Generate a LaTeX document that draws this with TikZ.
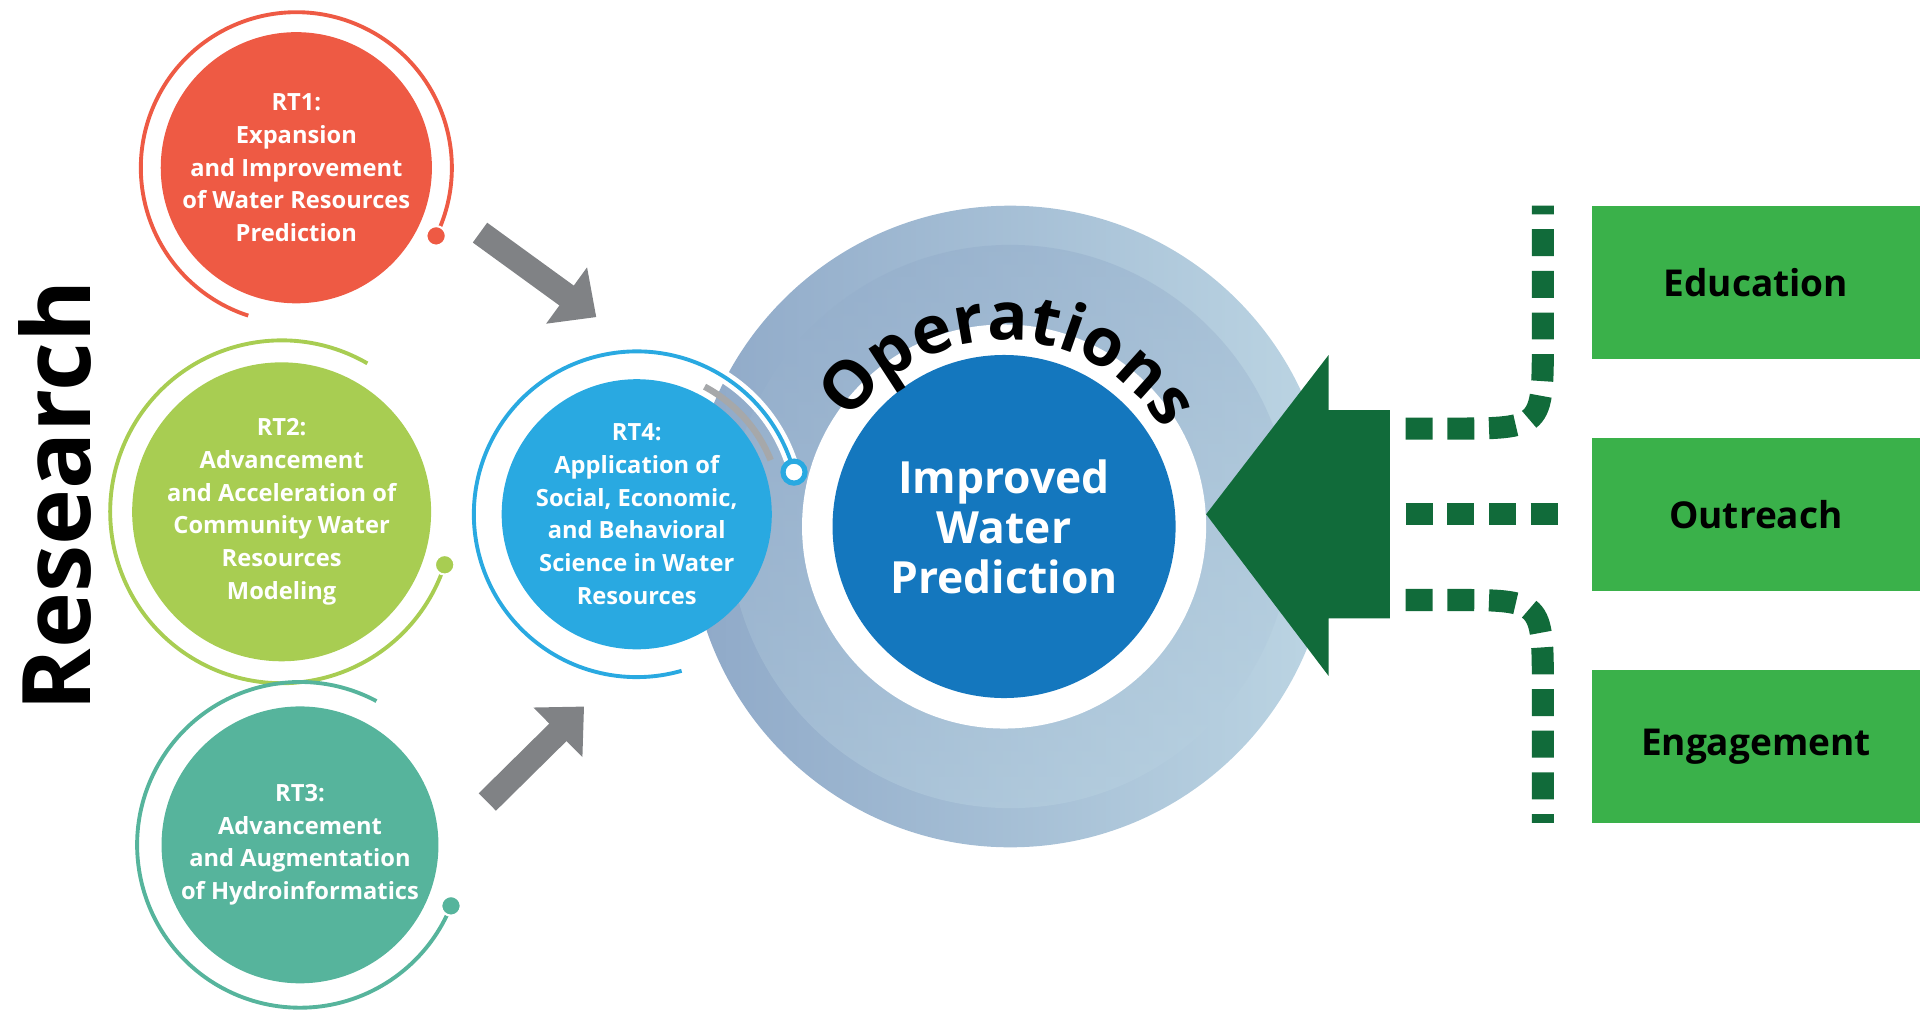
\documentclass[tikz,border=0pt]{standalone}
\usepackage{fontspec}
\setmainfont{Open Sans}
\usetikzlibrary{positioning}
\usetikzlibrary{calc}
\usetikzlibrary{decorations.text}
\usetikzlibrary{arrows.meta}
\definecolor{rtred}{HTML}{EE5A44}
\definecolor{rtlime}{HTML}{A8CD52}
\definecolor{rtteal}{HTML}{56B49C}
\definecolor{rtblue}{HTML}{29A9E1}
\definecolor{opblue}{HTML}{1477BE}
\definecolor{swirldark}{HTML}{8FA9C8}
\definecolor{swirllight}{HTML}{BCD5E3}
\definecolor{darkgreen}{HTML}{116B3A}
\definecolor{boxgreen}{HTML}{3AB14A}
\definecolor{arrowgray}{HTML}{808285}
\tikzset{
    rtcircle/.style={circle, inner sep=0pt, text=white, align=center,
        font=\fontsize{5.5pt}{7.6pt}\selectfont\bfseries},
    ring/.style={line width=0.9pt},
    gotbox/.style={rectangle, fill=boxgreen, minimum width=2.68cm, minimum height=1.25cm,
        font=\fontsize{8.6pt}{10pt}\selectfont\bfseries},
    dashline/.style={darkgreen, line width=0.18cm, dash pattern=on 0.22cm off 0.12cm},
    grayarrow/.style={arrowgray, line width=0.2cm, -{Triangle[length=0.3cm,width=0.55cm]}}
}

\begin{document}
\begin{tikzpicture}[x=0.01cm, y=0.01cm]
                \useasboundingbox (0,0) rectangle (1568,837);

                % Research label
                \node[rotate=90, font=\fontsize{22pt}{22pt}\selectfont\bfseries] (research) at (45,432) {Research};

                % Central swirl
                \shade[left color=swirldark, right color=swirllight] (825,407) circle (262);
                \shade[top color=swirldark, bottom color=swirllight, opacity=0.4] (825,407) circle (230);
                \fill[white] (820,407) circle (165);
                \node[circle, fill=opblue, minimum size=2.8cm, inner sep=0pt, text=white, align=center,
                    font=\fontsize{10.3pt}{11.6pt}\selectfont\bfseries] (IWP) at (820,407)
                    {Improved\\Water\\Prediction};
                \path[decorate, decoration={text along path, text align=center,
                    text={|\fontsize{15.5pt}{15.5pt}\selectfont\bfseries|Operations}}]
                    (820,407) ++(165:152) arc (165:12:152);

                % Research topics
                \node[rtcircle, fill=rtred, minimum size=2.2cm] (RT1) at (242,700)
                    {RT1:\\Expansion\\and Improvement\\of Water Resources\\Prediction};
                \node[rtcircle, fill=rtlime, minimum size=2.44cm] (RT2) at (230,419)
                    {RT2:\\Advancement\\and Acceleration of\\Community Water\\Resources\\Modeling};
                \node[rtcircle, fill=rtteal, minimum size=2.26cm] (RT3) at (245,147)
                    {RT3:\\Advancement\\and Augmentation\\of Hydroinformatics};
                \node[rtcircle, fill=rtblue, minimum size=2.2cm] (RT4) at (520,417)
                    {RT4:\\Application of\\Social, Economic,\\and Behavioral\\Science in Water\\Resources};

                % Rings
                \draw[ring, rtred] (RT1.center) ++(-26:127) arc (-26:252:127);
                \fill[rtred, draw=white, line width=0.5pt] (RT1.center) ++(-26:127) circle (8);
                \draw[ring, rtlime] (RT2.center) ++(60:140) arc (60:342:140);
                \fill[rtlime, draw=white, line width=0.5pt] (RT2.center) ++(-18:140) circle (8);
                \draw[ring, rtteal] (RT3.center) ++(62:133) arc (62:338:133);
                \fill[rtteal, draw=white, line width=0.5pt] (RT3.center) ++(-22:133) circle (8);
                \draw[ring, white, line width=3pt] (RT4.center) ++(15:133) arc (15:286:133);
                \draw[ring, rtblue] (RT4.center) ++(15:133) arc (15:286:133);
                \draw[arrowgray!70, line width=1.5pt] (RT4.center) ++(62:118) arc (62:22:118);
                \filldraw[fill=white, draw=rtblue, line width=1.2pt] (RT4.center) ++(15:133) circle (9);

                % Gray arrows
                \coordinate (a1s) at (392,647);
                \coordinate (a1e) at (487,578);
                \coordinate (a3s) at (398,182);
                \coordinate (a3e) at (477,260);
                \draw[grayarrow] (a1s) -- (a1e);
                \draw[grayarrow] (a3s) -- (a3e);

                % Big green arrow
                \fill[darkgreen] (985,417) -- (1085,547) -- (1085,502) -- (1135,502)
                    -- (1135,332) -- (1085,332) -- (1085,285) -- cycle;

                % Outreach boxes
                \node[gotbox] (edu) at (1434,606) {Education};
                \node[gotbox] (out) at (1434,417) {Outreach};
                \node[gotbox] (eng) at (1434,227) {Engagement};

                % Dashed links
                \coordinate (du) at (1260,669);
                \coordinate (dl) at (1260,165);
                \coordinate (dm) at (1275,417);
                \draw[dashline] (1148,487) -- (1185,487) .. controls (1260,487) .. (1260,560) -- (du);
                \draw[dashline] (1148,417) -- (dm);
                \draw[dashline] (1148,347) -- (1185,347) .. controls (1260,347) .. (1260,274) -- (dl);
            \end{tikzpicture}
\end{document}
